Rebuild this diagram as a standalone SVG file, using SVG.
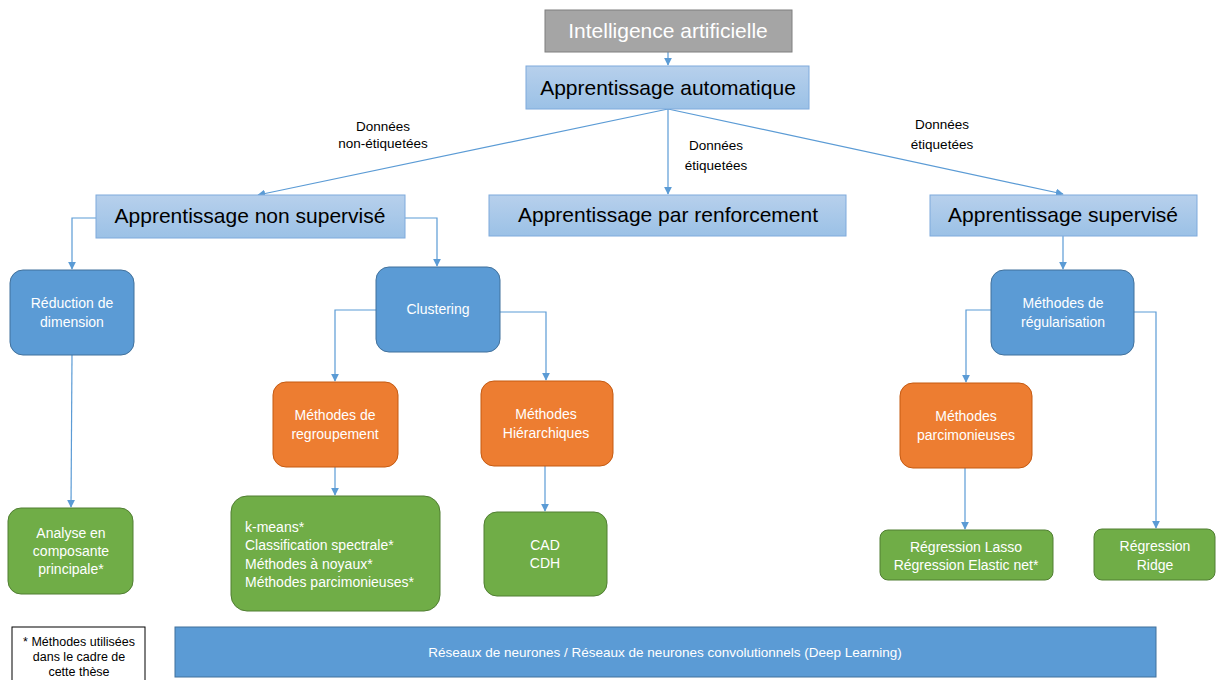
<svg xmlns="http://www.w3.org/2000/svg" width="1216" height="680" viewBox="0 0 1216 680">
<defs>
<linearGradient id="lb" x1="0" y1="0" x2="0" y2="1">
<stop offset="0" stop-color="#b7d0ec"/>
<stop offset="1" stop-color="#9bc1e6"/>
</linearGradient>
<marker id="ah" viewBox="0 0 10 10" refX="9" refY="5" markerWidth="8" markerHeight="8" markerUnits="userSpaceOnUse" orient="auto">
<path d="M0,0 L10,5 L0,10 z" fill="#5b9bd5"/>
</marker>
</defs>
<style>
text{font-family:"Liberation Sans",Arial,sans-serif;text-anchor:middle}
.big{font-size:21px;fill:#000}
.sm{font-size:14px;fill:#fff}
.lab{font-size:13.5px;fill:#000}
.leg{font-size:12.5px;fill:#000}
.hdr{fill:url(#lb);stroke:#7eaadc;stroke-width:1}
.blue{fill:#5b9bd5;stroke:#41719c;stroke-width:1}
.orange{fill:#ed7d31;stroke:#c55a11;stroke-width:1}
.green{fill:#70ad47;stroke:#507e32;stroke-width:1}
.conn{fill:none;stroke:#5b9bd5;stroke-width:1.2}
</style>
<rect width="1216" height="680" fill="#fff"/>

<g id="connectors">
<path class="conn" d="M668,52 L668,65" marker-end="url(#ah)"/>
<path class="conn" d="M668,109 L258,195" marker-end="url(#ah)"/>
<path class="conn" d="M668,109 L668,194" marker-end="url(#ah)"/>
<path class="conn" d="M668,109 L1063,194" marker-end="url(#ah)"/>
<path class="conn" d="M96,218 L72,218 L72,269" marker-end="url(#ah)"/>
<path class="conn" d="M405,218 L437,218 L437,266" marker-end="url(#ah)"/>
<path class="conn" d="M376,310 L335,310 L335,381" marker-end="url(#ah)"/>
<path class="conn" d="M500,312 L546,312 L546,380" marker-end="url(#ah)"/>
<path class="conn" d="M335,467 L335,495" marker-end="url(#ah)"/>
<path class="conn" d="M545,466 L545,511" marker-end="url(#ah)"/>
<path class="conn" d="M72,355 L71,507" marker-end="url(#ah)"/>
<path class="conn" d="M1063,236 L1063,269" marker-end="url(#ah)"/>
<path class="conn" d="M991,310 L966,310 L966,382" marker-end="url(#ah)"/>
<path class="conn" d="M1134,312 L1156,312 L1156,528" marker-end="url(#ah)"/>
<path class="conn" d="M965,468 L965,529" marker-end="url(#ah)"/>
</g>

<g id="edge-labels">
<text class="lab" x="383" y="131">Données</text>
<text class="lab" x="383" y="148">non-étiquetées</text>
<text class="lab" x="716" y="150">Données</text>
<text class="lab" x="716" y="170">étiquetées</text>
<text class="lab" x="942" y="129">Données</text>
<text class="lab" x="942" y="149">étiquetées</text>
</g>

<g id="ia">
<rect x="545" y="10" width="247" height="42" fill="#a5a5a5" stroke="#7f7f7f" stroke-width="1"/>
<text class="big" x="668" y="38" style="fill:#fff">Intelligence artificielle</text>
</g>
<g id="auto">
<rect class="hdr" x="526" y="66" width="283" height="43"/>
<text class="big" x="668" y="95">Apprentissage automatique</text>
</g>
<g id="nonsup">
<rect class="hdr" x="96" y="195" width="309" height="43"/>
<text class="big" x="250" y="223">Apprentissage non supervisé</text>
</g>
<g id="renf">
<rect class="hdr" x="489" y="195" width="357" height="41"/>
<text class="big" x="668" y="222">Apprentissage par renforcement</text>
</g>
<g id="sup">
<rect class="hdr" x="930" y="195" width="267" height="41"/>
<text class="big" x="1063" y="222">Apprentissage supervisé</text>
</g>

<g id="reduction">
<rect class="blue" x="10" y="270" width="124" height="85" rx="13"/>
<text class="sm" x="72" y="308">Réduction de</text>
<text class="sm" x="72" y="327">dimension</text>
</g>
<g id="clustering">
<rect class="blue" x="376" y="267" width="124" height="85" rx="13"/>
<text class="sm" x="438" y="314">Clustering</text>
</g>
<g id="regroupement">
<rect class="orange" x="273" y="382" width="125" height="85" rx="13"/>
<text class="sm" x="335" y="420">Méthodes de</text>
<text class="sm" x="335" y="439">regroupement</text>
</g>
<g id="hierarchiques">
<rect class="orange" x="481" y="381" width="132" height="85" rx="13"/>
<text class="sm" x="546" y="419">Méthodes</text>
<text class="sm" x="546" y="438">Hiérarchiques</text>
</g>
<g id="acp">
<rect class="green" x="8" y="508" width="125" height="86" rx="13"/>
<text class="sm" x="71" y="538">Analyse en</text>
<text class="sm" x="71" y="556">composante</text>
<text class="sm" x="71" y="574">principale*</text>
</g>
<g id="kmeans">
<rect class="green" x="231" y="496" width="209" height="115" rx="16"/>
<text class="sm" x="245" y="532" style="text-anchor:start">k-means*</text>
<text class="sm" x="245" y="550" style="text-anchor:start">Classification spectrale*</text>
<text class="sm" x="245" y="569" style="text-anchor:start">Méthodes à noyaux*</text>
<text class="sm" x="245" y="587" style="text-anchor:start">Méthodes parcimonieuses*</text>
</g>
<g id="cad">
<rect class="green" x="484" y="512" width="123" height="84" rx="13"/>
<text class="sm" x="545" y="550">CAD</text>
<text class="sm" x="545" y="568">CDH</text>
</g>
<g id="regularisation">
<rect class="blue" x="991" y="270" width="143" height="85" rx="13"/>
<text class="sm" x="1063" y="308">Méthodes de</text>
<text class="sm" x="1063" y="327">régularisation</text>
</g>
<g id="parcimonieuses">
<rect class="orange" x="900" y="383" width="132" height="85" rx="13"/>
<text class="sm" x="966" y="421">Méthodes</text>
<text class="sm" x="966" y="440">parcimonieuses</text>
</g>
<g id="lasso">
<rect class="green" x="880" y="530" width="173" height="50" rx="8"/>
<text class="sm" x="966" y="552">Régression Lasso</text>
<text class="sm" x="966" y="570">Régression Elastic net*</text>
</g>
<g id="ridge">
<rect class="green" x="1094" y="529" width="121" height="51" rx="8"/>
<text class="sm" x="1155" y="551">Régression</text>
<text class="sm" x="1155" y="570">Ridge</text>
</g>
<g id="reseaux">
<rect class="blue" x="175" y="627" width="981" height="50"/>
<text class="sm" x="665" y="657" style="font-size:13.5px">Réseaux de neurones / Réseaux de neurones convolutionnels (Deep Learning)</text>
</g>
<g id="legend">
<rect x="12" y="627" width="133" height="62" fill="#fff" stroke="#000" stroke-width="1"/>
<text class="leg" x="79" y="646">* Méthodes utilisées</text>
<text class="leg" x="79" y="661">dans le cadre de</text>
<text class="leg" x="79" y="676">cette thèse</text>
</g>
</svg>
